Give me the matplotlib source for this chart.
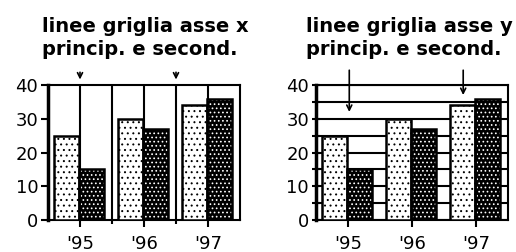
import numpy as np
import matplotlib
matplotlib.use("Agg")
import matplotlib.pyplot as plt
from matplotlib.ticker import MultipleLocator

# dati del grafico
anni = ["'95", "'96", "'97"]
serie_chiara = [25, 30, 34]
serie_scura = [15, 27, 36]
titoli = ["linee griglia asse x\nprincip. e second.",
          "linee griglia asse y\nprincip. e second."]

plt.rcParams['font.family'] = 'DejaVu Sans'
plt.rcParams['hatch.linewidth'] = 0.7

fig = plt.figure(figsize=(5.16, 2.52), dpi=100)
ax1 = fig.add_axes([48/516, 32/252, 192/516, 135/252])
ax2 = fig.add_axes([316/516, 32/252, 192/516, 135/252])

x = np.arange(len(anni))
w = 0.39


def barre(ax):
    # barre chiare: bianco con punti neri
    ax.bar(x - w/2 - 0.015, serie_chiara, w, color='white', edgecolor='black',
           hatch='...', linewidth=0, zorder=3)
    ax.bar(x - w/2 - 0.015, serie_chiara, w, fill=False, edgecolor='black',
           linewidth=1.8, zorder=4)
    # barre scure: nero con punti bianchi
    ax.bar(x + w/2 - 0.015, serie_scura, w, color='black', edgecolor='white',
           hatch='....', linewidth=0, zorder=3)
    ax.bar(x + w/2 - 0.015, serie_scura, w, fill=False, edgecolor='black',
           linewidth=1.8, zorder=4)


for ax in (ax1, ax2):
    barre(ax)
    ax.set_xlim(-0.5, 2.5)
    ax.set_ylim(0, 40)
    ax.set_xticks(x)
    ax.set_xticklabels(anni, fontsize=13)
    ax.set_yticks([0, 10, 20, 30, 40])
    ax.tick_params(axis='y', labelsize=13, length=5, width=1.5, pad=2)
    ax.tick_params(axis='x', length=5, width=1.5, pad=6)
    for s in ax.spines.values():
        s.set_linewidth(1.5)
    ax.spines['left'].set_linewidth(2.5)

# griglia verticale (asse x) nel primo grafico
ax1.set_xticks([0.5, 1.5], minor=True)
ax1.tick_params(axis='x', which='minor', length=3, width=1.5)
ax1.grid(axis='x', which='both', color='black', linewidth=1.5, zorder=1)
ax1.set_axisbelow(True)

# griglia orizzontale (asse y) nel secondo grafico
ax2.yaxis.set_minor_locator(MultipleLocator(5))
ax2.tick_params(axis='y', which='both', direction='inout', length=6, width=1.5)
ax2.grid(axis='y', which='both', color='black', linewidth=1.5, zorder=1)
ax2.set_axisbelow(True)

# titoli
fig.text(42/516, 1 - 17/252, titoli[0], ha='left', va='top',
         fontsize=14, fontweight='bold', linespacing=1.25)
fig.text(306/516, 1 - 17/252, titoli[1], ha='left', va='top',
         fontsize=14, fontweight='bold', linespacing=1.25)

# frecce
freccia = dict(arrowstyle='->', lw=1.2, mutation_scale=9, color='black')
ax1.annotate('', xy=(0, 40.8), xytext=(0, 44.6), arrowprops=freccia,
             annotation_clip=False)
ax1.annotate('', xy=(1.5, 40.8), xytext=(1.5, 44.6), arrowprops=freccia,
             annotation_clip=False)
ax2.annotate('', xy=(0.02, 31.2), xytext=(0.02, 45.2), arrowprops=freccia,
             annotation_clip=False)
ax2.annotate('', xy=(1.8, 36.2), xytext=(1.8, 45.2), arrowprops=freccia,
             annotation_clip=False)

fig.savefig('out.png', dpi=100)
